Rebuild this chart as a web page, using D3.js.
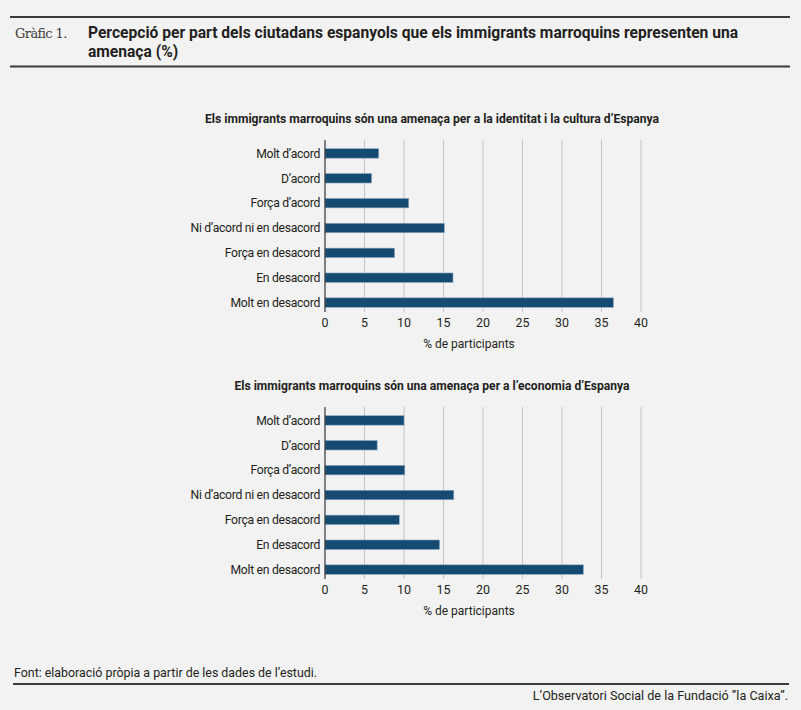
<!DOCTYPE html>
<html>
<head>
<meta charset="utf-8">
<script src="https://cdn.jsdelivr.net/npm/d3@7"></script>
<style>
  body { margin: 0; background: #f2f2f2; }
  svg { display: block; }
</style>
</head>
<body>
<svg width="801" height="710"></svg>
<script>
// response categories, top to bottom
const categories = [
  "Molt d’acord",
  "D’acord",
  "Força d’acord",
  "Ni d’acord ni en desacord",
  "Força en desacord",
  "En desacord",
  "Molt en desacord"
];
const identitatValues = [6.8, 5.9, 10.6, 15.1, 8.8, 16.2, 36.5];
const economiaValues = [10.0, 6.6, 10.1, 16.3, 9.4, 14.5, 32.7];
const xTicks = [0, 5, 10, 15, 20, 25, 30, 35, 40];
const panelTitles = [
  "Els immigrants marroquins són una amenaça per a la identitat i la cultura d’Espanya",
  "Els immigrants marroquins són una amenaça per a l’economia d’Espanya"
];
const axisTitle = "% de participants";

const svg = d3.select("svg");
const font = "Roboto, 'Liberation Sans', sans-serif";
const ink = "#231f20";

svg.append("rect").attr("width", 801).attr("height", 710).attr("fill", "#f2f2f2");

// header
svg.append("line").attr("x1", 10).attr("x2", 790).attr("y1", 17).attr("y2", 17)
  .attr("stroke", "#3d3a39").attr("stroke-width", 2);
svg.append("line").attr("x1", 10).attr("x2", 790).attr("y1", 66.5).attr("y2", 66.5)
  .attr("stroke", "#3d3a39").attr("stroke-width", 2);
svg.append("text").attr("x", 15).attr("y", 38)
  .text("Gràfic 1.")
  .style("font-family", "'DejaVu Serif', 'Liberation Serif', serif")
  .style("font-size", "13px")
  .style("letter-spacing", "-0.6px")
  .style("fill", "#3d3a39");
const title = svg.append("text")
  .style("font-family", font)
  .style("font-weight", "700")
  .style("font-size", "15.6px")
  .style("fill", ink);
title.append("tspan").attr("x", 88).attr("y", 38)
  .text("Percepció per part dels ciutadans espanyols que els immigrants marroquins representen una");
title.append("tspan").attr("x", 88).attr("y", 57).text("amenaça (%)");

function drawPanel(values, titleText, top) {
  const x = d3.scaleLinear().domain([0, 40]).range([325, 641]);
  const y = d3.scaleBand().domain(categories).range([top + 22, top + 196]).paddingInner(0.62).paddingOuter(0.31);
  const g = svg.append("g");

  g.append("text")
    .attr("x", 432).attr("y", top + 4)
    .attr("text-anchor", "middle")
    .text(titleText)
    .style("font-family", font)
    .style("font-weight", "700")
    .style("font-size", "12.1px")
    .style("fill", ink);

  // grid
  g.selectAll("line.grid")
    .data(xTicks.slice(1))
    .enter()
    .append("line")
    .attr("class", "grid")
    .attr("x1", d => x(d)).attr("x2", d => x(d))
    .attr("y1", top + 21).attr("y2", top + 193)
    .attr("stroke", "#c4c4c4")
    .attr("stroke-width", 1);

  g.selectAll("rect.bar")
    .data(values)
    .enter()
    .append("rect")
    .attr("class", "bar")
    .attr("x", x(0))
    .attr("y", (d, i) => y(categories[i]))
    .attr("width", d => x(d) - x(0))
    .attr("height", y.bandwidth())
    .attr("fill", "#154b73")
    .attr("stroke", "#8aa6bd")
    .attr("stroke-width", 0.6);

  g.append("line")
    .attr("x1", x(0)).attr("x2", x(0))
    .attr("y1", top + 21).attr("y2", top + 193)
    .attr("stroke", "#333")
    .attr("stroke-width", 1.2);

  g.selectAll("text.cat")
    .data(categories)
    .enter()
    .append("text")
    .attr("class", "cat")
    .attr("x", x(0) - 5)
    .attr("y", d => y(d) + y.bandwidth() / 2)
    .attr("dy", "0.35em")
    .attr("text-anchor", "end")
    .text(d => d)
    .style("font-family", font)
    .style("font-size", "12.2px")
    .style("letter-spacing", "-0.3px")
    .style("fill", ink);

  g.selectAll("text.tick")
    .data(xTicks)
    .enter()
    .append("text")
    .attr("class", "tick")
    .attr("x", d => x(d))
    .attr("y", top + 208)
    .attr("text-anchor", "middle")
    .text(d => d)
    .style("font-family", font)
    .style("font-size", "12.4px")
    .style("fill", ink);

  g.append("text")
    .attr("x", 469).attr("y", top + 229)
    .attr("text-anchor", "middle")
    .text(axisTitle)
    .style("font-family", font)
    .style("font-size", "12px")
    .style("fill", ink);
}

drawPanel(identitatValues, panelTitles[0], 119);
drawPanel(economiaValues, panelTitles[1], 386);

// footer
svg.append("text").attr("x", 14).attr("y", 676.5)
  .text("Font: elaboració pròpia a partir de les dades de l’estudi.")
  .style("font-family", font)
  .style("font-size", "12.4px")
  .style("fill", ink);
svg.append("line").attr("x1", 13).attr("x2", 789).attr("y1", 684).attr("y2", 684)
  .attr("stroke", "#3d3a39").attr("stroke-width", 2);
svg.append("text").attr("x", 788).attr("y", 700)
  .attr("text-anchor", "end")
  .text("L’Observatori Social de la Fundació ”la Caixa”.")
  .style("font-family", font)
  .style("font-size", "12.6px")
  .style("fill", ink);
</script>
</body>
</html>
